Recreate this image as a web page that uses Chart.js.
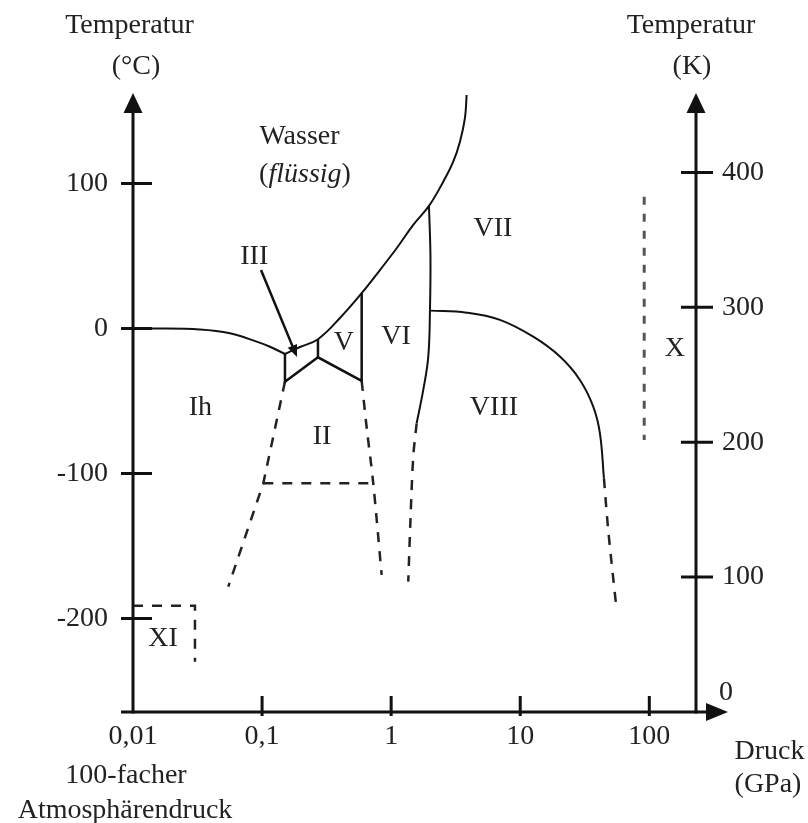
<!DOCTYPE html>
<html lang="de">
<head>
<meta charset="utf-8">
<title>Phasendiagramm von Wasser</title>
<script src="https://cdn.jsdelivr.net/npm/chart.js@4.4.1/dist/chart.umd.min.js"></script>
<style>
    html, body { margin: 0; padding: 0; background: #ffffff; }
    canvas { display: block; }
</style>
</head>
<body>
<canvas id="phasen-chart" width="808" height="823"></canvas>
<script>
/**
 * Phasendiagramm von Wasser
 * Druck logarithmisch in GPa, Temperatur in °C (links) und in K (rechts)
 */

// Wertebereiche der Achsen
const DRUCK_MIN = 0.01;
const DRUCK_MAX = 230;
const TEMP_C_MIN = -264.5;
const TEMP_C_MAX = 161;
const TEMP_K_MIN = 0;
const TEMP_K_MAX = 457.4;

// Beschriftete Teilstriche
const druckTicks = [0.01, 0.1, 1, 10, 100];
const tempCelsiusTicks = [100, 0, -100, -200];
const tempKelvinTicks = [100, 200, 300, 400];

// Phasengrenzen, jeweils [Druck in GPa, Temperatur in °C]
const grenzeIhFluessig = [[0.01, 0], [0.0135, 0], [0.033, -0.7], [0.0564, -3.3], [0.0908, -9.1], [0.1151, -12.6], [0.1504, -17.6]];
const grenzeFluessig = [[0.1504, -17.6], [0.1966, -12.8], [0.271, -7.4], [0.4012, 7.2], [0.591, 24.3], [0.819, 40.3], [1.103, 55.3], [1.483, 71.4], [1.963, 84.5], [2.533, 101.2], [3.027, 115.0], [3.412, 128.8], [3.729, 145.0], [3.844, 161]];
const grenzeEisIII = [[0.1504, -17.6], [0.1504, -36.7], [0.271, -19.9], [0.591, -36.2], [0.591, 24.3]];
const grenzeIIIzuV = [[0.271, -7.4], [0.271, -19.9]];
const grenzeEisVI = [[1.963, 84.5], [2.016, 49.3], [1.998, 12.3], [1.939, -19.4], [1.773, -42.4], [1.576, -65.4]];
const grenzeVIIzuVIII = [[1.998, 12.3], [3.844, 10.9], [6.963, 5.9], [12.61, -5.7], [20.3, -19.4], [29.0, -35.5], [36.78, -53.9], [41.44, -72.3], [44.51, -103.3]];

// Unsichere Grenzen (gestrichelt)
const strichIhzuII = [[0.1504, -36.7], [0.1022, -106.8], [0.0547, -178.1]];
const strichIIquer = [[0.1022, -106.8], [0.7268, -106.8]];
const strichIIzuVI = [[0.591, -36.2], [0.6494, -70.0], [0.7268, -106.8], [0.8442, -170.0]];
const strichVIzuVIII = [[1.576, -65.4], [1.483, -88.4], [1.411, -132.1], [1.357, -174.6]];
const strichVIII = [[44.51, -103.3], [48.05, -139.0], [55.81, -194.1]];
const strichX = [[91.3, 90.9], [91.3, -76.9]];
const strichXI = [[0.01, -191.2], [0.0302, -191.2], [0.0302, -229.8]];

// Namen der Phasen mit Ankerpunkt [Druck, Temperatur]
const phasenNamen = [
    { text: 'Ih', p: 0.0333, t: -59.7 },
    { text: 'II', p: 0.291, t: -79.7 },
    { text: 'III', p: 0.087, t: 44.3 },
    { text: 'V', p: 0.431, t: -14.8 },
    { text: 'VI', p: 1.089, t: -10.7 },
    { text: 'VII', p: 6.145, t: 63.8 },
    { text: 'VIII', p: 6.256, t: -59.7 },
    { text: 'X', p: 157.9, t: -19.0 },
    { text: 'XI', p: 0.0171, t: -219.3 }
];
const wasserText = { p: 0.195, t: 127.2 };
const fluessigText = { p: 0.215, t: 101.2 };
const pfeilIII = { von: [0.0981, 40.3], nach: [0.1864, -19.7] };

// Gestaltung
const LINIEN_FARBE = '#111111';
const TEXT_FARBE = '#222222';
const SCHRIFT = '"Liberation Serif", "Times New Roman", serif';
const SCHRIFT_GROESSE = 28;
const STRICH_MUSTER = [10, 9];

/**
 * Schrift-String für den Canvas
 */
function schrift(kursiv) {
    return (kursiv ? 'italic ' : '') + SCHRIFT_GROESSE + 'px ' + SCHRIFT;
}

/**
 * Wandelt Paare [Druck, Temperatur] in Punkte für Chart.js um
 */
function zuPunkten(paare) {
    return paare.map(p => ({ x: p[0], y: p[1] }));
}

/**
 * Datensatz für eine Grenzlinie
 */
function linie(paare, extra) {
    return Object.assign({
        data: zuPunkten(paare),
        showLine: true,
        borderColor: LINIEN_FARBE,
        borderWidth: 2,
        tension: 0,
        pointRadius: 0,
        fill: false
    }, extra || {});
}

/**
 * Gefüllte Pfeilspitze an (x, y) in Richtung winkel
 */
function pfeilSpitze(ctx, x, y, winkel, laenge, halbeBreite) {
    ctx.save();
    ctx.translate(x, y);
    ctx.rotate(winkel);
    ctx.beginPath();
    ctx.moveTo(0, 0);
    ctx.lineTo(-laenge, -halbeBreite);
    ctx.lineTo(-laenge, halbeBreite);
    ctx.closePath();
    ctx.fill();
    ctx.restore();
}

/**
 * Achsenlinien, Pfeile und Teilstriche
 */
function zeichneAchsen(chart) {
    const ctx = chart.ctx;
    const a = chart.chartArea;
    const sx = chart.scales.x;
    const sy = chart.scales.y;
    const sk = chart.scales.yK;

    ctx.save();
    ctx.strokeStyle = LINIEN_FARBE;
    ctx.fillStyle = LINIEN_FARBE;
    ctx.lineWidth = 3;

    // Druckachse
    ctx.beginPath();
    ctx.moveTo(a.left - 12, a.bottom);
    ctx.lineTo(a.right + 14, a.bottom);
    ctx.stroke();
    pfeilSpitze(ctx, a.right + 32, a.bottom, 0, 22, 9);

    // Temperaturachsen links und rechts
    [a.left, a.right].forEach(function(x) {
        ctx.beginPath();
        ctx.moveTo(x, a.bottom + 1.5);
        ctx.lineTo(x, a.top + 14);
        ctx.stroke();
        pfeilSpitze(ctx, x, a.top - 2, -Math.PI / 2, 20, 9.5);
    });

    // Teilstriche
    ctx.beginPath();
    tempCelsiusTicks.forEach(function(v) {
        const y = sy.getPixelForValue(v);
        ctx.moveTo(a.left - 12, y);
        ctx.lineTo(a.left + 19, y);
    });
    tempKelvinTicks.forEach(function(v) {
        const y = sk.getPixelForValue(v);
        ctx.moveTo(a.right - 15, y);
        ctx.lineTo(a.right + 17, y);
    });
    druckTicks.slice(1).forEach(function(v) {
        const x = sx.getPixelForValue(v);
        ctx.moveTo(x, a.bottom - 16);
        ctx.lineTo(x, a.bottom + 4);
    });
    ctx.stroke();
    ctx.restore();
}

/**
 * Achsentitel und Zusatzbeschriftungen
 */
function zeichneTitel(chart) {
    const ctx = chart.ctx;
    const a = chart.chartArea;

    ctx.save();
    ctx.fillStyle = TEXT_FARBE;
    ctx.font = schrift(false);
    ctx.textBaseline = 'alphabetic';
    ctx.textAlign = 'center';

    ctx.fillText('Temperatur', a.left - 3.5, 33);
    ctx.fillText('(°C)', a.left + 3, 74);
    ctx.fillText('Temperatur', a.right - 5, 33);
    ctx.fillText('(K)', a.right - 4, 74);

    ctx.fillText('100-facher', 126, 783);
    ctx.fillText('Atmosphärendruck', 125, 818);
    ctx.fillText('Druck', a.right + 73.5, 759);
    ctx.fillText('(GPa)', a.right + 72, 792);

    // Null der Kelvin-Skala sitzt über der Druckachse
    ctx.textAlign = 'left';
    ctx.fillText('0', a.right + 23, a.bottom - 12);
    ctx.restore();
}

/**
 * Text aus normalen und kursiven Teilen, zentriert um cx
 */
function gemischterText(ctx, teile, cx, y) {
    let breite = 0;
    teile.forEach(function(t) {
        ctx.font = schrift(t[1]);
        breite += ctx.measureText(t[0]).width;
    });
    let x = cx - breite / 2;
    ctx.textAlign = 'left';
    teile.forEach(function(t) {
        ctx.font = schrift(t[1]);
        ctx.fillText(t[0], x, y);
        x += ctx.measureText(t[0]).width;
    });
}

/**
 * Namen der Phasen und Pfeil zu Eis III
 */
function zeichnePhasen(chart) {
    const ctx = chart.ctx;
    const sx = chart.scales.x;
    const sy = chart.scales.y;

    ctx.save();
    ctx.fillStyle = TEXT_FARBE;
    ctx.textBaseline = 'alphabetic';
    ctx.textAlign = 'center';
    ctx.font = schrift(false);

    phasenNamen.forEach(function(ph) {
        ctx.fillText(ph.text, sx.getPixelForValue(ph.p), sy.getPixelForValue(ph.t));
    });
    ctx.fillText('Wasser', sx.getPixelForValue(wasserText.p), sy.getPixelForValue(wasserText.t));
    gemischterText(ctx, [['(', false], ['flüssig', true], [')', false]],
        sx.getPixelForValue(fluessigText.p), sy.getPixelForValue(fluessigText.t));

    // Pfeil auf das kleine Feld von Eis III
    const x0 = sx.getPixelForValue(pfeilIII.von[0]);
    const y0 = sy.getPixelForValue(pfeilIII.von[1]);
    const x1 = sx.getPixelForValue(pfeilIII.nach[0]);
    const y1 = sy.getPixelForValue(pfeilIII.nach[1]);
    const winkel = Math.atan2(y1 - y0, x1 - x0);
    ctx.strokeStyle = LINIEN_FARBE;
    ctx.fillStyle = LINIEN_FARBE;
    ctx.lineWidth = 2.5;
    ctx.beginPath();
    ctx.moveTo(x0, y0);
    ctx.lineTo(x1 - Math.cos(winkel) * 8, y1 - Math.sin(winkel) * 8);
    ctx.stroke();
    pfeilSpitze(ctx, x1, y1, winkel, 12, 5);
    ctx.restore();
}

const phasenPlugin = {
    id: 'phasenBeschriftung',
    afterDraw(chart) {
        zeichneAchsen(chart);
        zeichneTitel(chart);
        zeichnePhasen(chart);
    }
};

/**
 * Gemeinsame Einstellungen der Skalenbeschriftung
 */
function tickSchrift(abstand) {
    return {
        color: TEXT_FARBE,
        font: { family: SCHRIFT, size: SCHRIFT_GROESSE },
        padding: abstand,
        autoSkip: false,
        maxRotation: 0
    };
}

/**
 * Aufbau des Diagramms
 */
function initPhasenDiagramm() {
    const canvas = document.getElementById('phasen-chart');
    if (!canvas || !canvas.getContext) {
        console.error('Canvas nicht gefunden');
        return;
    }
    const breite = canvas.width;
    const hoehe = canvas.height;

    const strich = { borderDash: STRICH_MUSTER, borderWidth: 2.5, borderColor: '#222222' };

    new Chart(canvas.getContext('2d'), {
        type: 'scatter',
        data: {
            datasets: [
                linie(grenzeIhFluessig, { tension: 0.4 }),
                linie(grenzeFluessig, { tension: 0.4 }),
                linie(grenzeEisIII, { borderWidth: 2.5 }),
                linie(grenzeIIIzuV, { borderWidth: 2.5 }),
                linie(grenzeEisVI, { tension: 0.4 }),
                linie(grenzeVIIzuVIII, { tension: 0.4 }),
                linie(strichIhzuII, strich),
                linie(strichIIquer, strich),
                linie(strichIIzuVI, Object.assign({ tension: 0.3 }, strich)),
                linie(strichVIzuVIII, Object.assign({ tension: 0.3 }, strich)),
                linie(strichVIII, Object.assign({ tension: 0.3 }, strich)),
                linie(strichX, { borderDash: [8, 9], borderWidth: 3, borderColor: '#555555' }),
                linie(strichXI, strich)
            ]
        },
        options: {
            responsive: false,
            animation: false,
            layout: { padding: { top: 95, left: 0, right: 0, bottom: 0 } },
            plugins: {
                legend: { display: false },
                tooltip: { enabled: false }
            },
            elements: { point: { radius: 0 } },
            scales: {
                x: {
                    type: 'logarithmic',
                    position: 'bottom',
                    min: DRUCK_MIN,
                    max: DRUCK_MAX,
                    grid: { display: false, drawTicks: false },
                    border: { display: false },
                    ticks: Object.assign(tickSchrift(8), {
                        callback: v => String(v).replace('.', ',')
                    }),
                    afterBuildTicks: s => { s.ticks = druckTicks.map(v => ({ value: v })); },
                    afterFit: s => { s.height = hoehe - 712; }
                },
                y: {
                    type: 'linear',
                    position: 'left',
                    min: TEMP_C_MIN,
                    max: TEMP_C_MAX,
                    grid: { display: false, drawTicks: false },
                    border: { display: false },
                    ticks: tickSchrift(25),
                    afterBuildTicks: s => { s.ticks = tempCelsiusTicks.map(v => ({ value: v })); },
                    afterFit: s => { s.width = 133; }
                },
                yK: {
                    type: 'linear',
                    position: 'right',
                    min: TEMP_K_MIN,
                    max: TEMP_K_MAX,
                    grid: { display: false, drawTicks: false },
                    border: { display: false },
                    ticks: tickSchrift(26),
                    afterBuildTicks: s => { s.ticks = tempKelvinTicks.map(v => ({ value: v })); },
                    afterFit: s => { s.width = breite - 696; }
                }
            }
        },
        plugins: [phasenPlugin]
    });
}

initPhasenDiagramm();
</script>
</body>
</html>
